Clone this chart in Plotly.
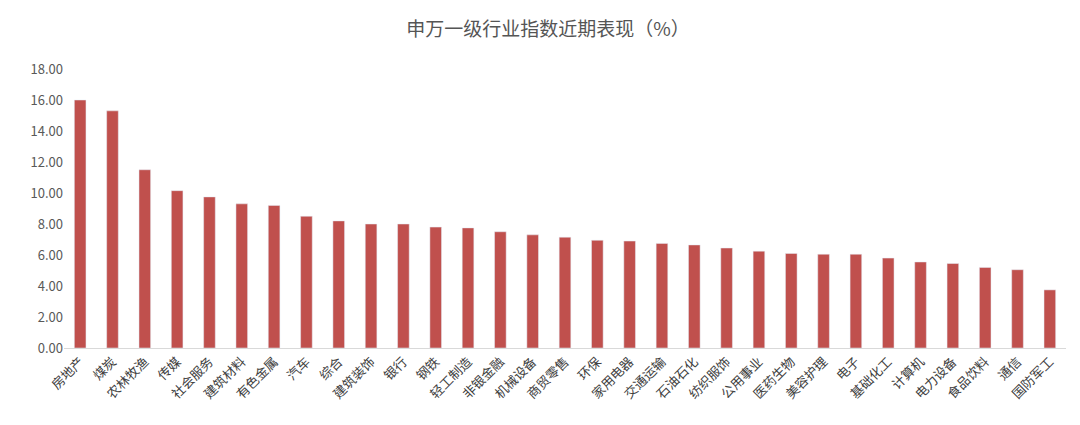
import plotly.graph_objects as go

categories = ["房地产","煤炭","农林牧渔","传媒","社会服务","建筑材料","有色金属","汽车","综合","建筑装饰",
              "银行","钢铁","轻工制造","非银金融","机械设备","商贸零售","环保","家用电器","交通运输","石油石化",
              "纺织服饰","公用事业","医药生物","美容护理","电子","基础化工","计算机","电力设备","食品饮料","通信","国防军工"]
values = [16.0,15.3,11.5,10.15,9.75,9.3,9.2,8.5,8.2,8.0,
          8.0,7.8,7.75,7.5,7.3,7.15,6.95,6.9,6.75,6.65,
          6.45,6.25,6.1,6.05,6.05,5.8,5.55,5.45,5.2,5.05,3.75]
tick_vals = [0,2,4,6,8,10,12,14,16,18]

fig = go.Figure(go.Bar(x=categories, y=values, marker_color="#c0504d", width=0.36))
fig.update_layout(
    width=1080, height=425,
    title=dict(text="申万一级行业指数近期表现（%）", x=0.5, y=0.95, xanchor="center", yanchor="middle",
               font=dict(size=19, color="#555555", family="Noto Sans CJK SC")),
    font=dict(family="Noto Sans CJK SC", color="#595959", size=13),
    plot_bgcolor="white", paper_bgcolor="white",
    margin=dict(l=56, r=22, t=61, b=85),
)
fig.update_yaxes(range=[0,18], tickvals=tick_vals, tickformat=".2f", showgrid=False,
                 showline=False, zeroline=False, tickfont=dict(size=13, color="#595959"))
fig.update_xaxes(tickangle=-45, showline=True, linecolor="#d9d9d9", showgrid=False,
                 tickfont=dict(size=13, color="#404040"))
fig.write_html("out.html")
